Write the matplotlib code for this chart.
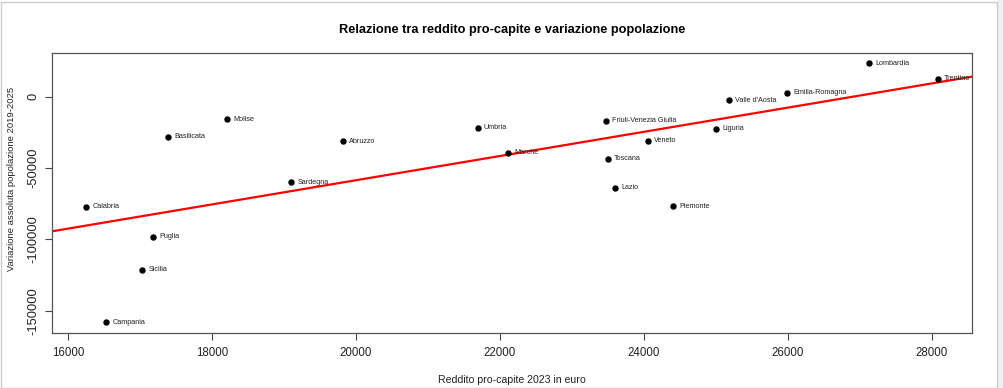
import numpy as np
import matplotlib
matplotlib.use('Agg')
import matplotlib.pyplot as plt
from matplotlib.patches import Rectangle

plt.rcParams['font.family'] = ['Liberation Sans', 'DejaVu Sans']

regioni = ['Molise', 'Basilicata', 'Abruzzo', 'Umbria', 'Sardegna', 'Lombardia',
           'Trentino', 'Emilia-Romagna', "Valle d'Aosta", 'Friuli-Venezia Giulia',
           'Liguria', 'Veneto', 'Marche', 'Toscana', 'Lazio', 'Piemonte',
           'Calabria', 'Puglia', 'Sicilia', 'Campania']
reddito = [18206, 17382, 19818, 21691, 19100, 27134,
           28085, 25994, 25180, 23470,
           24999, 24058, 22116, 23502, 23595, 24405,
           16246, 17182, 17029, 16524]
variazione = [-15865, -28290, -31310, -21762, -59880, 23447,
              12425, 2808, -2527, -16850,
              -22675, -30890, -39520, -43524, -63880, -76730,
              -77220, -98280, -121170, -158160]

x = np.array(reddito, dtype=float)
y = np.array(variazione, dtype=float)

fig = plt.figure(figsize=(10.04, 3.88), dpi=100)
W, H = 1004, 388
ax = fig.add_axes([51.7/W, 1-332.7/H, (971.7-51.7)/W, (332.7-52.7)/H])

ax.plot(x, y, 'o', color='black', markersize=3.6, zorder=3)
for n, xi, yi in zip(regioni, x, y):
    ax.annotate(n, (xi, yi), xytext=(4.6, 0), textcoords='offset points',
                fontsize=5.2, va='center', ha='left', color='#222222',
                annotation_clip=True, clip_on=True)

# retta di regressione
b, a = np.polyfit(x, y, 1)
xr = np.array([10000, 35000])
ax.plot(xr, a + b*xr, color='red', lw=1.6, zorder=2)

xr_ = x.max() - x.min()
yr_ = y.max() - y.min()
ax.set_xlim(x.min() - 0.04*xr_, x.max() + 0.04*xr_)
ax.set_ylim(y.min() - 0.04*yr_, y.max() + 0.04*yr_)

ax.set_xticks([16000, 18000, 20000, 22000, 24000, 26000, 28000])
ax.set_yticks([0, -50000, -100000, -150000])
ax.set_yticklabels(['0', '-50000', '-100000', '-150000'], rotation=90, va='center')
ax.tick_params(direction='out', length=5, width=0.8, colors='#444444',
               labelcolor='#222222', labelsize=8.3, pad=5)
ax.tick_params(axis='y', labelsize=9.3, pad=4)
for s in ax.spines.values():
    s.set_color('#555555')
    s.set_linewidth(0.9)

ax.set_title('Relazione tra reddito pro-capite e variazione popolazione',
             fontsize=9.2, fontweight='bold', pad=14)
ax.set_xlabel('Reddito pro-capite 2023 in euro', fontsize=7.6, labelpad=12, color='#222222')
ax.set_ylabel('Variazione assoluta popolazione 2019-2025', fontsize=6.8, color='#222222')
ax.yaxis.set_label_coords(-0.039, 0.55)

# cornice dello screenshot
fig.patches.append(Rectangle((997/W, 0), 7/W, 1, transform=fig.transFigure,
                             facecolor='#f0f0f0', edgecolor='none'))
fig.patches.append(Rectangle((1/W, 0), 996/W, 1-1.5/H, transform=fig.transFigure,
                             facecolor='none', edgecolor='#cccccc', lw=1))

fig.savefig('out.png', dpi=100)
